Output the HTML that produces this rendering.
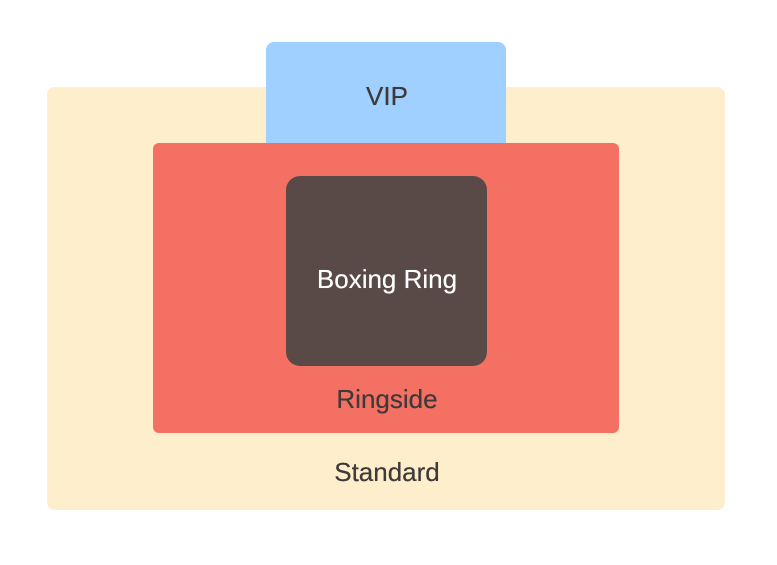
<!DOCTYPE html>
<html><head><style>
body{margin:0;width:777px;height:565px;background:#fff;position:relative;overflow:hidden;font-family:"Liberation Sans",sans-serif;}
.b{position:absolute;box-sizing:border-box;}
.t{position:absolute;left:0;width:774px;text-align:center;font-size:26px;color:#3f3a3a;line-height:1;text-shadow:0 0 0.4px currentColor;}
</style></head><body>
<div class="b" style="left:47px;top:87px;width:678px;height:423px;background:#feeecb;border-radius:8px;"></div>
<div class="b" style="left:266px;top:42px;width:240px;height:105px;background:#9fd0ff;border-radius:8px 8px 0 0;"></div>
<div class="b" style="left:153px;top:143px;width:466px;height:290px;background:#f47063;border-radius:6px;"></div>
<div class="b" style="left:286px;top:176px;width:201px;height:190px;background:#594a47;border-radius:14px;"></div>
<div class="t" style="top:83px;">VIP</div>
<div class="t" style="top:266px;color:#fff;">Boxing Ring</div>
<div class="t" style="top:386px;">Ringside</div>
<div class="t" style="top:459px;">Standard</div>
</body></html>
